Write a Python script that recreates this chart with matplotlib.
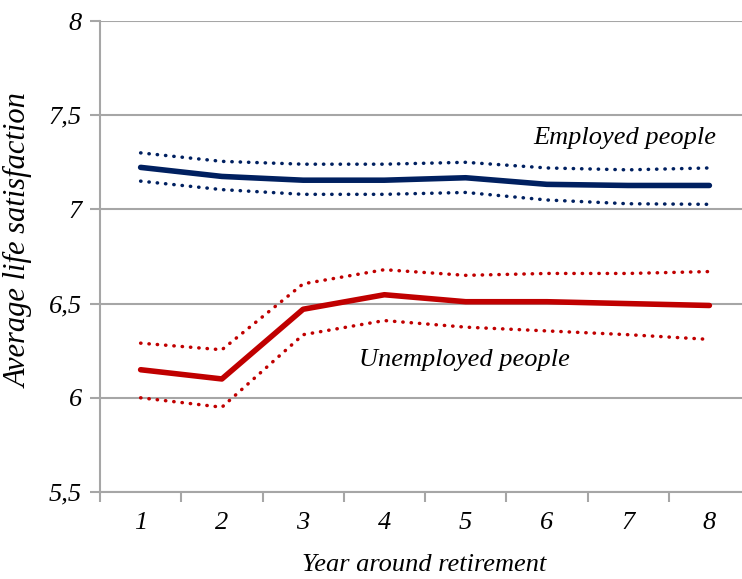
import matplotlib.pyplot as plt
from matplotlib.ticker import FixedLocator, FuncFormatter

# --- DATA ---
years = [1, 2, 3, 4, 5, 6, 7, 8]
emp_mean = [7.223, 7.175, 7.155, 7.155, 7.168, 7.133, 7.127, 7.127]
emp_upper = [7.30, 7.255, 7.24, 7.24, 7.25, 7.22, 7.21, 7.22]
emp_lower = [7.15, 7.105, 7.08, 7.08, 7.09, 7.05, 7.03, 7.027]
unemp_mean = [6.149, 6.10, 6.47, 6.547, 6.51, 6.51, 6.50, 6.49]
unemp_upper = [6.29, 6.255, 6.605, 6.68, 6.65, 6.66, 6.66, 6.67]
unemp_lower = [6.0, 5.95, 6.335, 6.41, 6.375, 6.355, 6.335, 6.31]
y_ticks = [5.5, 6, 6.5, 7, 7.5, 8]

NAVY = '#002060'
RED = '#C00000'
GRID = '#A6A6A6'
FS = 19

plt.rcParams['font.family'] = ['Liberation Serif', 'DejaVu Serif']
plt.rcParams['font.style'] = 'italic'

fig = plt.figure(figsize=(7.42, 5.79), dpi=100)
ax = fig.add_axes([100 / 742, 1 - 492 / 579, 650 / 742, 471 / 579])

for lo, hi, mean, col in [(emp_lower, emp_upper, emp_mean, NAVY),
                          (unemp_lower, unemp_upper, unemp_mean, RED)]:
    ax.plot(years, hi, ls=(0, (0.1, 2.3)), lw=2.5, color=col, dash_capstyle='round')
    ax.plot(years, lo, ls=(0, (0.1, 2.3)), lw=2.5, color=col, dash_capstyle='round')
    ax.plot(years, mean, lw=4, color=col, solid_capstyle='round', solid_joinstyle='round')

ax.set_xlim(0.5, 8.5)
ax.set_ylim(5.5, 8)
ax.set_yticks(y_ticks)
ax.yaxis.set_major_formatter(FuncFormatter(lambda v, p: f"{v:g}".replace('.', ',')))
ax.set_xticks(years)
ax.xaxis.set_minor_locator(FixedLocator([y + 0.5 for y in [0] + years]))
ax.tick_params(axis='x', which='major', length=0, pad=14.5, labelsize=FS)
ax.tick_params(axis='x', which='minor', length=7, width=1.5, color=GRID)
ax.tick_params(axis='y', length=7, width=1.5, color=GRID, labelsize=FS, pad=6)

ax.grid(axis='y', color=GRID, lw=1.5)
ax.set_axisbelow(True)
for s in ['top', 'right']:
    ax.spines[s].set_visible(False)
for s in ['left', 'bottom']:
    ax.spines[s].set_color(GRID)
    ax.spines[s].set_linewidth(1.5)

ax.set_xlabel('Year around retirement', fontsize=FS, va='center')
ax.xaxis.set_label_coords(0.499, -0.155)
ax.set_ylabel('Average life satisfaction', fontsize=22, va='center')
ax.yaxis.set_label_coords(-0.125, 0.533)

ax.text(8.08, 7.38, 'Employed people', ha='right', va='center', fontsize=FS)
ax.text(3.69, 6.2, 'Unemployed people', ha='left', va='center', fontsize=FS)

fig.savefig('out.png', dpi=100)
